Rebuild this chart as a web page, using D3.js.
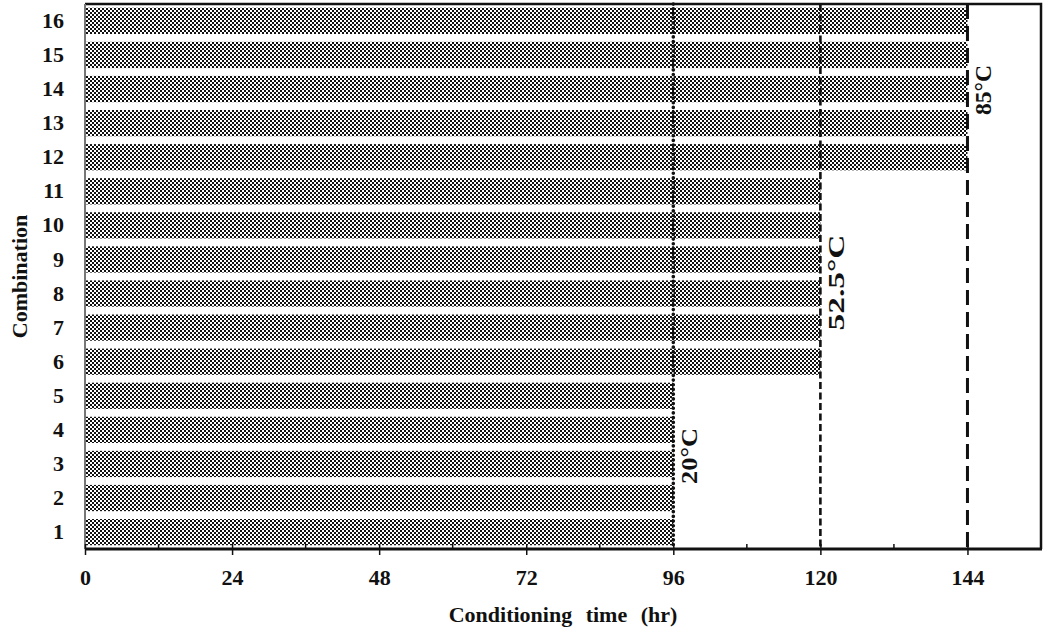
<!DOCTYPE html>
<html>
<head>
<meta charset="utf-8">
<script src="https://cdn.jsdelivr.net/npm/d3@7"></script>
<style>
  html, body { margin: 0; padding: 0; background: #fff; }
  svg { display: block; }
  text { font-family: "Liberation Serif", "Times New Roman", serif; font-weight: bold; fill: #111; }
</style>
</head>
<body>
<svg id="chart" width="1045" height="634"></svg>
<script>
// Combination numbers (y categories) and conditioning time for each (hours)
const combinations = [1, 2, 3, 4, 5, 6, 7, 8, 9, 10, 11, 12, 13, 14, 15, 16];
const conditioningHours = [96, 96, 96, 96, 96, 120, 120, 120, 120, 120, 120, 144, 144, 144, 144, 144];

// Temperature groups: time limit marked by a vertical line, label and line style
const groupHours = [96, 120, 144];
const groupLabels = ["20°C", "52.5°C", "85°C"];
const groupCombos = [[1, 5], [6, 11], [12, 16]];

const xMajorTicks = [0, 24, 48, 72, 96, 120, 144];
const xMinorTicks = [12, 36, 60, 84, 108, 132];

const svg = d3.select("#chart");
const plotLeft = 85, plotRight = 1041, plotTop = 4, plotBottom = 549;

const x = d3.scaleLinear().domain([0, 156]).range([plotLeft, plotRight]);
const y = d3.scaleBand().domain(combinations).range([plotBottom, plotTop])
  .paddingInner(0.23).paddingOuter(0.11);

// Fine checkered fill for the bars
const defs = svg.append("defs");
const pat = defs.append("pattern").attr("id", "checker")
  .attr("width", 4).attr("height", 4).attr("patternUnits", "userSpaceOnUse")
  .attr("shape-rendering", "crispEdges");
pat.append("rect").attr("width", 4).attr("height", 4).attr("fill", "#111");
pat.append("rect").attr("x", 0).attr("y", 0).attr("width", 2).attr("height", 2).attr("fill", "#fff");
pat.append("rect").attr("x", 2).attr("y", 2).attr("width", 2).attr("height", 2).attr("fill", "#fff");

// Bars
svg.append("g").selectAll("rect")
  .data(combinations.map((c, i) => ({ c, h: conditioningHours[i] })))
  .join("rect")
  .attr("x", x(0))
  .attr("y", d => y(d.c))
  .attr("width", d => x(d.h) - x(0))
  .attr("height", y.bandwidth())
  .attr("fill", "url(#checker)");

// Vertical limit lines for each temperature
const lineStyles = [
  { dash: "0.1 4.6", width: 3.6, cap: "round" },
  { dash: "7 3.5", width: 2.6, cap: "butt" },
  { dash: "15 7", width: 3, cap: "butt" }
];
groupHours.forEach((h, i) => {
  svg.append("line")
    .attr("x1", x(h)).attr("x2", x(h))
    .attr("y1", plotTop).attr("y2", plotBottom)
    .attr("stroke", "#111")
    .attr("stroke-width", lineStyles[i].width)
    .attr("stroke-linecap", lineStyles[i].cap)
    .attr("stroke-dasharray", lineStyles[i].dash);
});

// Plot frame: top and right border
svg.append("path")
  .attr("d", `M${plotLeft},${plotTop}H${plotRight}V${plotBottom}`)
  .attr("fill", "none").attr("stroke", "#111").attr("stroke-width", 2.5);

// Left axis line
svg.append("line")
  .attr("x1", plotLeft).attr("x2", plotLeft).attr("y1", plotTop).attr("y2", plotBottom)
  .attr("stroke", "#777").attr("stroke-width", 2);
const yAxis = d3.axisLeft(y).tickSize(0).tickPadding(21);
const yg = svg.append("g").attr("transform", `translate(${plotLeft},0)`).call(yAxis);
yg.select(".domain").remove();
yg.selectAll("text").style("font-size", "22px").attr("fill", "#111");

// Bottom axis: major ticks cross the axis, minor ticks point inward
const xAxis = d3.axisBottom(x).tickValues(xMajorTicks).tickSize(6).tickPadding(14);
const xg = svg.append("g").attr("transform", `translate(0,${plotBottom})`).call(xAxis);
xg.select(".domain").remove();
xg.selectAll(".tick line").attr("y1", -5).attr("stroke", "#111").attr("stroke-width", 1.5);
xg.selectAll("text").style("font-size", "22px").attr("fill", "#111");
svg.append("g").selectAll("line").data(xMinorTicks).join("line")
  .attr("x1", d => x(d)).attr("x2", d => x(d))
  .attr("y1", plotBottom).attr("y2", plotBottom - 5)
  .attr("stroke", "#111").attr("stroke-width", 1.5);
svg.append("line")
  .attr("x1", plotLeft).attr("x2", plotRight + 1).attr("y1", plotBottom).attr("y2", plotBottom)
  .attr("stroke", "#111").attr("stroke-width", 3);

// Temperature labels, rotated beside each limit line (the middle one is set wider)
const labelShift = [-8, 6, 1];
const labelLength = [56, 96, 50];
groupHours.forEach((h, i) => {
  const [a, b] = groupCombos[i];
  const cy = (y(a) + y.bandwidth() + y(b)) / 2 + labelShift[i];
  svg.append("text")
    .attr("transform", `translate(${x(h) + 24},${cy}) rotate(-90)`)
    .attr("text-anchor", "middle")
    .attr("textLength", labelLength[i])
    .attr("lengthAdjust", "spacingAndGlyphs")
    .style("font-size", "24px")
    .text(groupLabels[i]);
});

// Axis titles
svg.append("text")
  .attr("x", (plotLeft + plotRight) / 2).attr("y", 622)
  .attr("text-anchor", "middle")
  .style("font-size", "22px").style("word-spacing", "8px")
  .text("Conditioning time (hr)");
svg.append("text")
  .attr("transform", `translate(27,${(plotTop + plotBottom) / 2}) rotate(-90)`)
  .attr("text-anchor", "middle")
  .style("font-size", "22px")
  .text("Combination");
</script>
</body>
</html>
